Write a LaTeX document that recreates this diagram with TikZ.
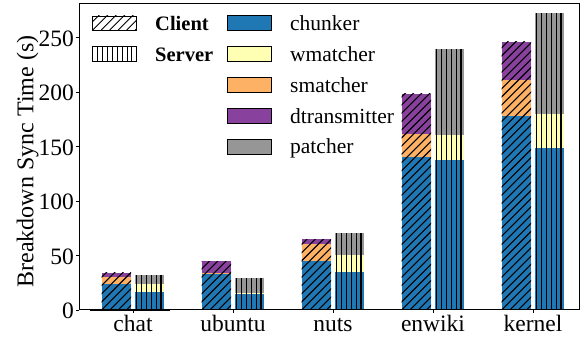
\documentclass[tikz,border=0pt]{standalone}
\usepackage{fontspec}
\setmainfont{Liberation Serif}
\newfontfamily\timesfam{Liberation Serif}
\definecolor{cchunk}{RGB}{31,119,180}
\definecolor{cwmatch}{RGB}{255,255,179}
\definecolor{csmatch}{RGB}{253,177,100}
\definecolor{cdtrans}{RGB}{136,65,157}
\definecolor{cpatch}{RGB}{150,150,150}
\tikzset{
  hatchln/.style={black,line width=1.1pt},
  legln/.style={black,line width=0.9pt},
  handlebox/.style={draw=black,line width=0.9pt},
  ticklbl/.style={font=\timesfam\fontsize{23.5}{26}\selectfont,inner sep=0pt},
  leglbl/.style={font=\timesfam\fontsize{21.5}{24}\selectfont,inner sep=0pt,anchor=base west},
}
% stacked client bar: tick x, chunker top, smatcher top, dtransmitter top
\newcommand\clientbar[4]{%
  \fill[cchunk] ({#1-31.3},29) rectangle ({#1-2},{29+1.09*#2});
  \fill[csmatch] ({#1-31.3},{29+1.09*#2}) rectangle ({#1-2},{29+1.09*#3});
  \fill[cdtrans] ({#1-31.3},{29+1.09*#3}) rectangle ({#1-2},{29+1.09*#4});
  \begin{scope}
    \clip ({#1-31.3},29) rectangle ({#1-2},{29+1.09*#4});
    \foreach \k in {-38,...,4} \draw[hatchln] ({#1-31.3+\k*8.2},29) -- ++(330,330);
  \end{scope}}
% stacked server bar: tick x, chunker top, wmatcher top, patcher top
\newcommand\serverbar[4]{%
  \fill[cchunk] ({#1+2},29) rectangle ({#1+31.3},{29+1.09*#2});
  \fill[cwmatch] ({#1+2},{29+1.09*#2}) rectangle ({#1+31.3},{29+1.09*#3});
  \fill[cpatch] ({#1+2},{29+1.09*#3}) rectangle ({#1+31.3},{29+1.09*#4});
  \foreach \k in {0,...,5} \draw[hatchln] ({#1+3.5+\k*4.9},29) -- ({#1+3.5+\k*4.9},{29+1.09*#4});}
\begin{document}
\begin{tikzpicture}[x=1pt,y=1pt]
\useasboundingbox (0,0) rectangle (584,339);

% bars
\clientbar{133}{23.9}{30.3}{34.2}
\serverbar{133}{16.5}{23.9}{32.1}
\clientbar{233}{33.6}{34.2}{44.7}
\serverbar{233}{15.3}{15.8}{29.4}
\clientbar{333}{45.2}{60.8}{65.1}
\serverbar{333}{34.9}{50.5}{70.9}
\clientbar{433}{140.4}{161.7}{198.2}
\serverbar{433}{137.6}{160.6}{239.4}
\clientbar{533}{178}{211.3}{245.9}
\serverbar{533}{148.6}{179.8}{272.5}

% axes frame
\draw[black,line width=1pt] (79.3,29) rectangle (579.5,335);
\draw[black,line width=2pt] (90,29) -- (170,29);

% y ticks and labels
\foreach \v in {0,50,100,150,200,250} {
  \draw[black,line width=0.9pt] (79.3,{29+1.09*\v}) -- (75.8,{29+1.09*\v});
  \node[ticklbl,anchor=base east] (yt\v) at (74,{29+1.09*\v-9}) {\v};
}
% x ticks and labels
\foreach \xc/\name in {133/chat,233/ubuntu,333/nuts,433/enwiki,533/kernel} {
  \draw[black,line width=0.9pt] (\xc,29) -- (\xc,25.5);
  \node[ticklbl,anchor=base] (xt\name) at (\xc,7.3) {\name};
}
\node[font=\timesfam\fontsize{24}{26}\selectfont,inner sep=0pt,anchor=base,rotate=90] (ylabel) at (33.3,177.5) {Breakdown Sync Time (s)};

% legend: client / server
\fill[white] (92.7,309) rectangle (136.7,323);
\begin{scope}
  \clip (92.7,309) rectangle (136.7,323);
  \foreach \k in {-3,...,6} \draw[legln] ({92.7+\k*8.5},309) -- ++(20,20);
\end{scope}
\draw[handlebox] (92.7,309) rectangle (136.7,323);
\fill[white] (92.7,278) rectangle (136.7,292.5);
\foreach \k in {1,...,8} \draw[legln] ({92.7+\k*4.9},278) -- ({92.7+\k*4.9},292.5);
\draw[handlebox] (92.7,278) rectangle (136.7,292.5);
\node[leglbl,font=\timesfam\fontsize{20.5}{24}\selectfont\bfseries] (lclient) at (155,308) {Client};
\node[leglbl,font=\timesfam\fontsize{20.5}{24}\selectfont\bfseries] (lserver) at (155,277.2) {Server};

% legend: stages
\foreach \c/\lbl [count=\i from 0] in {cchunk/chunker,cwmatch/wmatcher,csmatch/smatcher,cdtrans/dtransmitter,cpatch/patcher} {
  \draw[handlebox,fill=\c] (227.7,{339-23.3-30.8*\i-7.5}) rectangle (271.7,{339-23.3-30.8*\i+7.5});
  \node[leglbl] (l\lbl) at (290,{339-30.7-30.8*\i}) {\lbl};
}
\end{tikzpicture}
\end{document}
